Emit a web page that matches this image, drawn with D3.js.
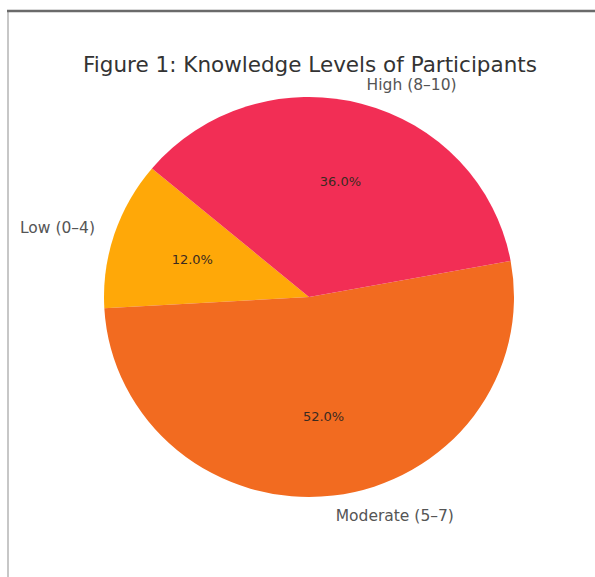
<!DOCTYPE html>
<html>
<head>
<meta charset="utf-8">
<script src="https://cdn.jsdelivr.net/npm/d3@7"></script>
<style>
  html, body { margin: 0; padding: 0; background: #fff; }
  svg { display: block; }
</style>
</head>
<body>
<div id="chart"></div>
<script>
// Knowledge level groups and their share of participants (%)
const categories = ["Low (0–4)", "Moderate (5–7)", "High (8–10)"];
const shares = [12, 52, 36];
const sliceColors = ["#FFA808", "#F26B20", "#F22E55"];
const title = "Figure 1: Knowledge Levels of Participants";

const W = 595, H = 577;
const cx = 309, cy = 297;
const R = 200;          // vertical radius
const sx = 1.025;       // horizontal stretch of the pie
const startDeg = 140;   // first slice starts here, counter-clockwise from 3 o'clock
const font = "'DejaVu Sans', sans-serif";

const svg = d3.select("#chart").append("svg")
  .attr("width", W).attr("height", H);

svg.append("rect").attr("width", W).attr("height", H).attr("fill", "#fff");

// frame lines
svg.append("line").attr("x1", 8).attr("x2", 8).attr("y1", 11).attr("y2", H)
  .attr("stroke", "#b4b4b4").attr("stroke-width", 1.5);
svg.append("line").attr("x1", 7).attr("x2", W).attr("y1", 11).attr("y2", 11)
  .attr("stroke", "#6a6a6a").attr("stroke-width", 2.5);

svg.append("text")
  .attr("x", 310).attr("y", 72)
  .attr("text-anchor", "middle")
  .attr("font-family", font)
  .attr("font-size", 21.5)
  .attr("fill", "#333")
  .text(title);

const toRad = d => d * Math.PI / 180;
// d3 angles run clockwise from 12 o'clock
const a0 = toRad(90 - startDeg);
const pie = d3.pie().sort(null).value(d => d)
  .startAngle(a0).endAngle(a0 - 2 * Math.PI);
const arcs = pie(shares);
const total = d3.sum(shares);

const arc = d3.arc().innerRadius(0).outerRadius(R);

const g = svg.append("g").attr("transform", `translate(${cx},${cy})`);
g.append("g").attr("transform", `scale(${sx},1)`)
  .selectAll("path").data(arcs).join("path")
  .attr("d", arc)
  .attr("fill", (d, i) => sliceColors[i]);

const pos = (d, k) => {
  const m = (d.startAngle + d.endAngle) / 2;
  return [Math.sin(m) * R * k * sx, -Math.cos(m) * R * k];
};

// category labels outside the pie
g.selectAll("text.cat").data(arcs).join("text")
  .attr("class", "cat")
  .attr("x", d => pos(d, 1.1)[0])
  .attr("y", d => pos(d, 1.1)[1])
  .attr("dy", "0.35em")
  .attr("text-anchor", d => pos(d, 1.1)[0] < 0 ? "end" : "start")
  .attr("font-family", font)
  .attr("font-size", 15.5)
  .attr("fill", "#555")
  .text((d, i) => categories[i]);

// percentage labels inside the slices
g.selectAll("text.pct").data(arcs).join("text")
  .attr("class", "pct")
  .attr("x", d => pos(d, 0.6)[0])
  .attr("y", d => pos(d, 0.6)[1])
  .attr("dy", "0.35em")
  .attr("text-anchor", "middle")
  .attr("font-family", font)
  .attr("font-size", 13)
  .attr("fill", "#3a2a20")
  .text(d => (d.value / total * 100).toFixed(1) + "%");
</script>
</body>
</html>
